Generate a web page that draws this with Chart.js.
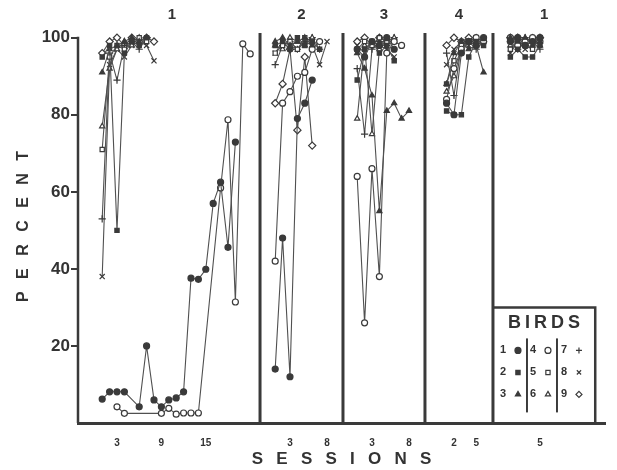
<!DOCTYPE html>
<html><head><meta charset="utf-8">
<script src="https://cdn.jsdelivr.net/npm/chart.js@4"></script>
<style>html,body{margin:0;padding:0;background:#fff}#wrap{width:617px;height:470px;position:relative}</style>
</head><body><div id="wrap"><canvas id="c" width="617" height="470"></canvas></div>
<script>
// ---- data ----
const birds = ['1','2','3','4','5','6','7','8','9'];
const panelTitles = ['1','2','3','4','1'];
const panelSessionCount = [21, 9, 8, 6, 5];
const xTickSessions = [[3,9,15],[3,8],[3,8],[2,5],[5]];
const yTicks = [20,40,60,80,100];
const legendTitle = 'BIRDS';

// values per panel, index 0 = session 1 (null = no session plotted)
const bird1 = [
  [6.2,8.1,8.1,8.1,null,4.2,20,6,4.2,6,6.5,8.1,37.6,37.3,39.9,57,62.5,45.6,72.9],
  [14,48,12,79,83,89],
  [97,95,99,98,100,97],
  [83,80,96,99,98,100],
  [99,100,98,99,100]
];
const bird2 = [
  [95,98,50,96,99,98,100],
  [98,99,97,100,98,99,97],
  [89,97,99,96,98,94],
  [81,80,80,95,99,98],
  [95,97,95,95,98]
];
const bird3 = [
  [91,97,98,99,100,99],
  [99,100,98,99,100,98],
  [96,92,85,55,81,83,79,81],
  [88,96,99,97,98,91],
  [100,99,100,98,99]
];
const bird4 = [
  [null,null,4.2,2.5,null,null,null,null,2.5,3.8,2.3,2.6,2.6,2.6,null,null,61,78.7,31.4,98.4,95.8],
  [42,83,86,90,91,97,99],
  [64,26,66,38,96,99,98],
  [84,92,97,99,100,99],
  [100,98,99,100,99]
];
const bird5 = [
  [71,95,98,97,99,100,99],
  [96,98,99,97,100,99],
  [97,99,98,100,99],
  [88,94,98,99,98,99],
  [97,99,98,97,100]
];
const bird6 = [
  [77,92,97,99,98,100],
  [98,97,100,99,98,100],
  [79,98,75,97,99,100],
  [86,90,97,99,100],
  [98,100,99,100,98]
];
const bird7 = [
  [53,96,89,98,99,97,100],
  [93,98,99,97,99,100,97],
  [92,75,97,99,98,100],
  [96,85,98,99,97,99],
  [99,97,100,99,97]
];
const bird8 = [
  [38,93,97,95,98,99,98,94],
  [96,99,98,97,99,98,93,99],
  [98,96,99,98,97,95],
  [93,97,99,98,100],
  [96,99,97,98,100]
];
const bird9 = [
  [96,99,100,98,100,99,100,99],
  [83,88,97,76,95,72],
  [99,100,98,100,99],
  [98,100,99,100,99],
  [100,100,98,99,100]
];
const birdValues = [bird1,bird2,bird3,bird4,bird5,bird6,bird7,bird8,bird9];

// ---- layout / style ----
const PANEL_OFFSET = [2.27, 25.65, 36.73, 48.81, 57.43];
const PANEL_EDGES = [24.6, 35.81, 46.89, 56.08];
const LEGEND_RIGHT = 69.9, LEGEND_TOP = 30;
const X_MAX = 71.22, Y_MAX = 102;
const INK = '#3a3a3a';
const pointStyles = ['circle','rect','triangle','circle','rect','triangle','cross','crossRot','rectRot'];
const filled = [true,true,true,false,false,false,false,false,false];
const FONT = '"Liberation Sans", Arial, Helvetica, sans-serif';
const SP = '\u2002 ';

const datasets = [];
birdValues.forEach((panels, b) => {
  panels.forEach((vals, p) => {
    const pts = [];
    vals.forEach((v, i) => { if (v !== null) pts.push({x: PANEL_OFFSET[p] + (i + 1), y: v}); });
    datasets.push({
      label: 'Bird ' + birds[b] + ' panel ' + (p + 1),
      data: pts,
      borderColor: '#505050',
      borderWidth: 1.1,
      pointStyle: pointStyles[b],
      pointRadius: (pointStyles[b] === 'cross' || pointStyles[b] === 'crossRot' || pointStyles[b] === 'rectRot') ? 3.6 : 3,
      pointBorderWidth: 1.2,
      pointBorderColor: INK,
      pointBackgroundColor: filled[b] ? INK : '#fff',
      tension: 0,
      fill: false
    });
  });
});

const xTickValues = [], xTickLabels = [];
xTickSessions.forEach((arr, p) => arr.forEach(s => { xTickValues.push(PANEL_OFFSET[p] + s); xTickLabels.push(String(s)); }));

const framePlugin = {
  id: 'frames',
  beforeDatasetsDraw(chart) {
    const {ctx, chartArea: a, scales: {x, y}} = chart;
    ctx.save();
    ctx.strokeStyle = INK;
    ctx.lineCap = 'butt';
    // y axis line
    ctx.lineWidth = 2.5;
    ctx.beginPath(); ctx.moveTo(a.left, y.getPixelForValue(100) - 1); ctx.lineTo(a.left, a.bottom); ctx.stroke();
    // panel dividers
    ctx.lineWidth = 3;
    PANEL_EDGES.forEach(e => {
      const px = x.getPixelForValue(e);
      ctx.beginPath(); ctx.moveTo(px, a.top + 3); ctx.lineTo(px, a.bottom); ctx.stroke();
    });
    // legend box
    const L = x.getPixelForValue(PANEL_EDGES[3]), R = x.getPixelForValue(LEGEND_RIGHT), T = y.getPixelForValue(LEGEND_TOP);
    ctx.lineWidth = 2.5;
    ctx.beginPath(); ctx.moveTo(L, T); ctx.lineTo(R, T); ctx.lineTo(R, a.bottom); ctx.stroke();
    ctx.fillStyle = '#333';
    ctx.textAlign = 'center'; ctx.textBaseline = 'middle';
    ctx.font = 'bold 18px ' + FONT;
    if ('letterSpacing' in ctx) ctx.letterSpacing = '4px';
    ctx.fillText(legendTitle, (L + R) / 2 + 2, T + 16);
    if ('letterSpacing' in ctx) ctx.letterSpacing = '0px';
    ctx.font = 'bold 11px ' + FONT;
    const colX = [10, 40, 71], mkX = [25, 55, 86];
    const rowY = [43, 65, 87];
    ctx.lineWidth = 2;
    [34, 64].forEach(d => { ctx.beginPath(); ctx.moveTo(L + d, T + 31); ctx.lineTo(L + d, T + 105); ctx.stroke(); });
    birds.forEach((b, i) => {
      const c = Math.floor(i / 3), r = i % 3;
      ctx.fillStyle = '#333';
      ctx.fillText(b, L + colX[c], T + rowY[r]);
      ctx.fillStyle = filled[i] ? INK : '#fff';
      ctx.lineWidth = 1.2;
      Chart.helpers.drawPoint(ctx, {pointStyle: pointStyles[i], radius: 3, rotation: 0, borderWidth: 1.2}, L + mkX[c], T + rowY[r]);
      ctx.lineWidth = 2;
    });
    // panel titles
    ctx.fillStyle = '#333';
    ctx.font = 'bold 15px ' + FONT;
    const bounds = [0, ...PANEL_EDGES, LEGEND_RIGHT];
    panelTitles.forEach((t, p) => {
      const cx = x.getPixelForValue((bounds[p] + bounds[p + 1]) / 2);
      ctx.fillText(t, cx + (p === 0 ? 3 : 0), 15);
    });
    ctx.restore();
  }
};

new Chart(document.getElementById('c'), {
  type: 'line',
  data: {datasets},
  plugins: [framePlugin],
  options: {
    responsive: false,
    animation: false,
    spanGaps: true,
    layout: {padding: {top: 30, right: 12, left: 0, bottom: 0}},
    plugins: {legend: {display: false}, tooltip: {enabled: false}},
    scales: {
      x: {
        type: 'linear', min: 0, max: X_MAX,
        grid: {display: false},
        border: {display: true, width: 3, color: INK},
        afterBuildTicks: s => { s.ticks = xTickValues.map(v => ({value: v})); },
        afterFit: s => { s.height = 47; },
        ticks: {autoSkip: false, maxRotation: 0, padding: 6, color: '#333', font: {family: FONT, size: 10, weight: 'bold'},
          callback: (v, i) => xTickLabels[i]},
        title: {display: true, text: ['S','E','S','S','I','O','N','S'].join(SP), color: '#333',
          font: {family: FONT, size: 17, weight: 'bold'}, padding: {top: 6, bottom: 0}}
      },
      y: {
        type: 'linear', min: 0, max: Y_MAX,
        grid: {display: true, drawOnChartArea: false, drawTicks: true, tickLength: 7, lineWidth: 2, color: INK},
        border: {display: false},
        afterBuildTicks: s => { s.ticks = yTicks.map(v => ({value: v})); },
        afterFit: s => { s.width = 78; },
        ticks: {padding: 1, color: '#333', font: {family: FONT, size: 17, weight: 'bold'}},
        title: {display: true, text: ['P','E','R','C','E','N','T'].join(SP), color: '#333',
          font: {family: FONT, size: 16, weight: 'bold'}, padding: {top: 14, bottom: 0}}
      }
    }
  }
});
</script></body></html>
